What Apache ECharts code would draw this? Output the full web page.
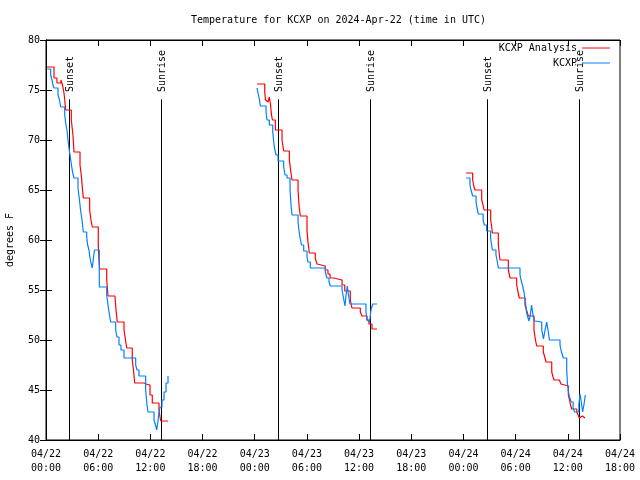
<!DOCTYPE html>
<html><head><meta charset="utf-8">
<script src="https://cdn.jsdelivr.net/npm/echarts/dist/echarts.min.js"></script>
<style>html,body{margin:0;padding:0;background:#fff}#c{width:640px;height:480px}</style>
</head><body><div id="c"></div>
<script>
const FONT = '"DejaVu Sans Mono", "Liberation Mono", monospace';
const chartTitle = 'Temperature for KCXP on 2024-Apr-22 (time in UTC)';
const seriesNames = ['KCXP Analysis', 'KCXP'];
// x in hours since 04/22 00:00 UTC
const tickLabels = ['04/22\n00:00','04/22\n06:00','04/22\n12:00','04/22\n18:00',
  '04/23\n00:00','04/23\n06:00','04/23\n12:00','04/23\n18:00',
  '04/24\n00:00','04/24\n06:00','04/24\n12:00','04/24\n18:00'];
const sunTimes = [2.64, 13.2, 26.67, 37.24, 50.7, 61.26];
const sunLabels = ['Sunset','Sunrise','Sunset','Sunrise','Sunset','Sunrise'];

const analysisDay1 = [[0.11,77.3],[0.92,76.2],[1.26,75.7],[1.72,76.0],[1.9,75.5],[2.07,74.7],[2.27,73.0],[2.91,72.0],[3.1,70.5],[3.22,68.8],[3.91,67.5],[4.08,66.3],[4.2,65.0],[4.29,64.2],[5.02,63.0],[5.17,62.0],[5.32,61.3],[6.01,59.5],[6.09,58.0],[6.17,57.1],[6.98,56.0],[7.07,55.0],[7.13,54.4],[7.93,54.2],[8.05,53.0],[8.2,51.8],[8.97,51.0],[9.14,50.0],[9.28,49.2],[9.92,48.0],[10.06,47.0],[10.2,45.7],[11.27,45.6],[11.5,45.5],[11.96,44.5],[12.22,43.7],[12.99,43.0],[13.11,42.3],[13.19,41.9],[14.03,41.9]];
const analysisDay2 = [[24.26,75.6],[25.15,74.8],[25.24,74.0],[25.3,73.8],[25.53,74.0],[25.68,74.3],[25.82,73.5],[25.93,72.5],[26.04,72.0],[26.37,71.0],[27.14,70.0],[27.33,68.9],[27.98,68.0],[28.12,67.0],[28.29,66.0],[28.98,65.0],[29.09,63.5],[29.24,62.4],[30.01,61.0],[30.12,59.8],[30.28,58.7],[30.96,58.2],[31.16,57.6],[31.36,57.4],[32.11,57.0],[32.42,56.6],[32.66,56.2],[33.08,56.0],[34.04,55.5],[34.35,54.9],[34.99,54.0],[35.18,53.2],[36.14,52.8],[36.33,52.4],[36.91,52.0],[37.14,51.6],[37.48,51.1],[38.06,51.1]];
const analysisDay3 = [[48.29,66.7],[49.06,66.0],[49.21,65.3],[49.33,65.0],[50.1,64.0],[50.25,63.5],[50.37,63.0],[51.13,62.0],[51.22,61.5],[51.32,60.7],[52.01,59.5],[52.09,58.8],[52.2,58.0],[53.16,57.0],[53.36,56.2],[54.12,55.5],[54.27,54.8],[54.42,54.2],[55.08,53.5],[55.25,53.0],[55.46,52.4],[56.11,51.0],[56.28,50.0],[56.42,49.4],[57.18,48.8],[57.38,48.2],[57.49,47.8],[58.15,46.8],[58.3,46.3],[58.42,46.0],[59.02,45.8],[59.21,45.6],[59.41,45.4],[60.06,44.5],[60.2,44.0],[60.31,43.5],[60.45,43.1],[61.03,42.8],[61.18,42.5],[61.32,42.2],[61.51,42.4],[61.68,42.2],[61.98,42.2]];

const obsDay1 = [[0.15,77.1],[0.54,76.5],[0.69,76.0],[0.8,75.5],[0.92,75.2],[1.38,74.5],[1.55,74.0],[1.69,73.3],[2.15,72.5],[2.3,71.5],[2.41,71.0],[2.53,70.0],[2.64,69.2],[2.76,68.5],[2.93,67.5],[3.05,66.8],[3.22,66.2],[3.68,65.2],[3.85,64.0],[3.97,63.0],[4.14,62.0],[4.29,60.8],[4.68,60.3],[4.79,59.5],[4.94,59.0],[5.06,58.2],[5.23,57.5],[5.32,57.2],[5.4,57.8],[5.5,58.5],[5.58,59.0],[6.13,55.3],[6.98,54.5],[7.13,53.5],[7.3,52.5],[7.44,51.8],[8.01,51.0],[8.16,50.3],[8.39,49.5],[8.62,49.0],[8.97,48.2],[10.31,47.5],[10.46,47.0],[10.69,46.4],[11.46,45.0],[11.61,43.5],[11.73,42.8],[12.42,42.0],[12.59,41.5],[12.73,41.0],[12.88,41.9],[12.99,42.8],[13.11,43.3],[13.34,44.0],[13.57,44.8],[13.8,45.7],[14.03,46.4]];
const obsDay2 = [[24.26,75.2],[24.43,74.5],[24.55,74.0],[24.64,73.4],[25.3,72.8],[25.41,72.0],[25.68,71.5],[26.07,70.8],[26.16,70.0],[26.27,69.2],[26.45,68.5],[26.68,67.9],[27.33,67.3],[27.48,66.5],[27.71,66.2],[28.06,65.0],[28.17,63.5],[28.29,62.5],[28.98,61.8],[29.08,61.0],[29.2,60.3],[29.37,59.5],[29.63,58.9],[30.01,58.3],[30.12,57.8],[30.39,57.2],[32.11,56.8],[32.31,56.2],[32.54,55.8],[32.69,55.4],[34.04,55.0],[34.21,54.2],[34.38,53.4],[34.5,54.5],[34.64,55.4],[34.78,54.5],[34.95,53.6],[36.79,52.8],[36.91,52.0],[37.03,51.8],[37.2,52.0],[37.37,53.0],[37.56,53.6],[38.06,53.6]];
const obsDay3 = [[48.29,66.2],[48.75,65.5],[48.87,65.0],[49.06,64.4],[49.45,63.8],[49.56,63.2],[49.71,62.6],[50.26,62.0],[50.4,61.5],[50.66,60.9],[51.12,60.2],[51.32,59.0],[51.74,58.5],[51.86,58.0],[52.01,57.2],[54.5,56.5],[54.62,56.0],[54.81,55.4],[54.96,54.8],[55.13,53.8],[55.25,52.8],[55.36,52.4],[55.53,51.9],[55.69,52.5],[55.83,53.5],[56.0,52.5],[56.17,51.9],[56.34,51.8],[57.0,51.0],[57.2,50.1],[57.38,51.0],[57.57,51.8],[57.72,51.0],[57.89,50.0],[58.03,50.0],[59.1,49.5],[59.27,48.8],[59.48,48.2],[59.87,47.0],[59.97,45.5],[60.09,44.7],[60.2,44.3],[60.38,43.8],[60.61,43.2],[60.77,42.8],[61.27,43.5],[61.4,44.6],[61.55,43.8],[61.7,42.8],[61.85,43.5],[62.01,44.5]];

const X_MIN = 0, X_MAX = 66, X_STEP = 6, Y_MIN = 40, Y_MAX = 80, Y_STEP = 5;

function joinSegments(segs) {
  const out = [];
  segs.forEach((s, i) => { if (i) out.push([null, null]); s.forEach(p => out.push(p)); });
  return out;
}

const chart = echarts.init(document.getElementById('c'), null, {renderer: 'canvas'});
const axisCommon = {
  axisLine: {show: true, lineStyle: {color: '#000', width: 1}},
  axisTick: {show: true, inside: true, length: 6, lineStyle: {color: '#000'}},
  splitLine: {show: false}
};
chart.setOption({
  animation: false,
  backgroundColor: '#fff',
  title: {text: chartTitle, left: 186, top: 10,
    textStyle: {fontFamily: FONT, fontSize: 10, fontWeight: 'normal', color: '#000'}},
  legend: {data: seriesNames, orient: 'vertical', right: 30, top: 43, align: 'right',
    padding: 0, itemGap: 5, itemWidth: 28, itemHeight: 1, icon: 'rect',
    textStyle: {fontFamily: FONT, fontSize: 10, color: '#000'}},
  grid: {left: 46, right: 20, top: 40, bottom: 40, show: true, borderColor: '#000', borderWidth: 1,
    containLabel: false, outerBoundsMode: 'none'},
  xAxis: [
    Object.assign({type: 'value', min: X_MIN, max: X_MAX, interval: X_STEP, position: 'bottom',
      axisLabel: {fontFamily: FONT, fontSize: 10, color: '#000', lineHeight: 14, margin: 7,
        formatter: v => tickLabels[Math.round((v - X_MIN) / X_STEP)] || ''}}, axisCommon),
    Object.assign({type: 'value', min: X_MIN, max: X_MAX, interval: X_STEP, position: 'top',
      axisLabel: {show: false}}, axisCommon)
  ],
  yAxis: [
    Object.assign({type: 'value', min: Y_MIN, max: Y_MAX, interval: Y_STEP, position: 'left',
      name: 'degrees F', nameLocation: 'middle', nameGap: 31, nameRotate: 90,
      nameTextStyle: {fontFamily: FONT, fontSize: 10, color: '#000'},
      axisLabel: {fontFamily: FONT, fontSize: 10, color: '#000', margin: 6}}, axisCommon),
    Object.assign({type: 'value', min: Y_MIN, max: Y_MAX, interval: Y_STEP, position: 'right',
      axisLabel: {show: false}}, axisCommon)
  ],
  series: [
    {name: seriesNames[0], type: 'line', step: 'end', showSymbol: false, connectNulls: false,
      color: '#ff0000', lineStyle: {color: '#ff0000', width: 1.2},
      data: joinSegments([analysisDay1, analysisDay2, analysisDay3]), z: 3},
    {name: seriesNames[1], type: 'line', step: 'end', showSymbol: false, connectNulls: false,
      color: '#0080ff', lineStyle: {color: '#0080ff', width: 1.2},
      data: joinSegments([obsDay1, obsDay2, obsDay3]), z: 4},
    {name: 'sun', type: 'custom', silent: true, z: 2,
      data: sunTimes.map((t, i) => [t, i]),
      renderItem: (params, api) => {
        const t = api.value(0);
        const p0 = api.coord([t, Y_MIN]);
        const p1 = api.coord([t, 74.07]);
        const pt = api.coord([t, 74.8]);
        const x = Math.round(p0[0]) + 0.5;
        return {type: 'group', children: [
          {type: 'line', shape: {x1: x, y1: p0[1], x2: x, y2: p1[1]}, style: {stroke: '#000', lineWidth: 1}},
          {type: 'text', x: x + 1, y: pt[1], rotation: Math.PI / 2,
            style: {text: sunLabels[params.dataIndex], font: '10px ' + FONT, fill: '#000',
              align: 'left', verticalAlign: 'middle'}}
        ]};
      }}
  ]
});
</script>
</body></html>
